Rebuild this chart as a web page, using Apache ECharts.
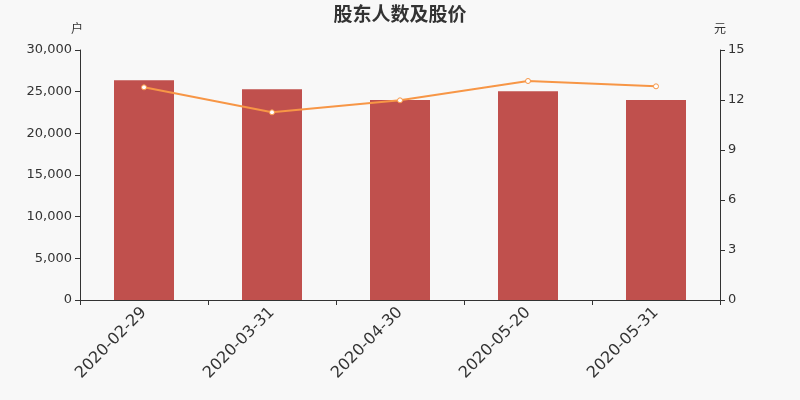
<!DOCTYPE html>
<html>
<head>
<meta charset="utf-8">
<script src="https://cdn.jsdelivr.net/npm/echarts@6/dist/echarts.min.js"></script>
<style>html,body{margin:0;padding:0;background:#f8f8f8;}#c{width:800px;height:400px;}</style>
</head>
<body>
<div id="c"></div>
<script>
const categories = ['2020-02-29', '2020-03-31', '2020-04-30', '2020-05-20', '2020-05-31'];
const holders = [26360, 25280, 24000, 25040, 24000];
const prices = [12.76, 11.26, 11.98, 13.14, 12.82];

const chart = echarts.init(document.getElementById('c'));
const font = '"DejaVu Sans", sans-serif';
const cjk = '"Noto Sans CJK SC", sans-serif';
chart.setOption({
  backgroundColor: '#f8f8f8',
  animation: false,
  textStyle: { fontFamily: font },
  title: {
    text: '股东人数及股价', left: 'center', top: -1,
    textStyle: { fontSize: 19, fontWeight: 'bold', color: '#333', fontFamily: cjk }
  },
  grid: { left: 80, right: 80, top: 50, bottom: 100 },
  xAxis: {
    type: 'category', data: categories,
    axisLine: { lineStyle: { color: '#333' } },
    axisTick: { show: true, alignWithLabel: false, lineStyle: { color: '#333' } },
    axisLabel: { rotate: 45, fontSize: 16, color: '#333', margin: 10, fontFamily: font, interval: 0 }
  },
  yAxis: [
    {
      type: 'value', name: '户', min: 0, max: 30000, interval: 5000,
      nameTextStyle: { color: '#333', fontSize: 12, padding: [0, 0, 0, -6], fontFamily: cjk }, nameGap: 16,
      axisLine: { show: true, lineStyle: { color: '#333' } },
      axisTick: { show: true },
      splitLine: { show: false },
      axisLabel: { color: '#333', fontSize: 13, fontFamily: font,
        formatter: v => v.toLocaleString('en-US') }
    },
    {
      type: 'value', name: '元', min: 0, max: 15, interval: 3,
      nameTextStyle: { color: '#333', fontSize: 12, padding: [0, 0, 0, 0], fontFamily: cjk }, nameGap: 16,
      axisLine: { show: true, lineStyle: { color: '#333' } },
      axisTick: { show: true },
      splitLine: { show: false },
      axisLabel: { color: '#333', fontSize: 13, fontFamily: font }
    }
  ],
  series: [
    {
      type: 'bar', data: holders, barWidth: 60, yAxisIndex: 0,
      itemStyle: { color: '#c0504d' }
    },
    {
      type: 'line', data: prices, yAxisIndex: 1,
      symbol: 'circle', symbolSize: 5,
      lineStyle: { color: '#f79646', width: 2 },
      itemStyle: { color: '#fff', borderColor: '#f79646', borderWidth: 1 }
    }
  ]
});
</script>
</body>
</html>
